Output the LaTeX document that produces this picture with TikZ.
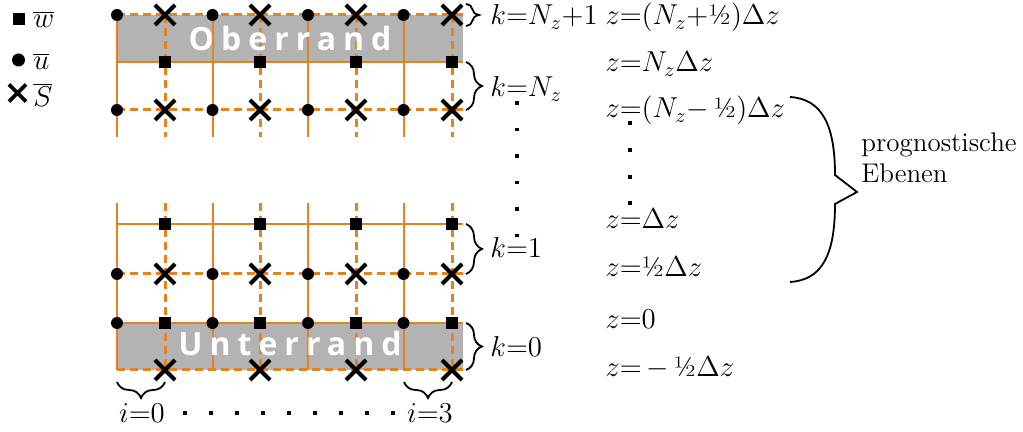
\documentclass[tikz,border=0pt]{standalone}
\usepackage{fontspec}
\usetikzlibrary{decorations.pathreplacing,shapes.misc}
\newfontfamily\randfont[LetterSpace=22]{Open Sans}
\definecolor{gridorange}{HTML}{E8801C}
\definecolor{randgray}{HTML}{B3B3B3}
\begin{document}
\begin{tikzpicture}[x=0.5pt,y=-0.5pt,
  solidline/.style={gridorange, line width=1pt},
  dashline/.style={gridorange, line width=1.5pt, dash pattern=on 4pt off 2.5pt},
  umark/.style={circle, fill=black, inner sep=0pt, minimum size=6pt},
  wmark/.style={rectangle, fill=black, inner sep=0pt, minimum size=5.9pt},
  smark/.style={cross out, draw=black, line width=2pt, inner sep=0pt, minimum size=8pt},
  dotmark/.style={rectangle, fill=black, inner sep=0pt, minimum width=2pt, minimum height=1.8pt},
  lbl/.style={inner sep=0pt, font=\fontsize{14}{17}\selectfont},
  randtext/.style={inner sep=0pt, text=white, font=\randfont\bfseries\fontsize{16}{19}\selectfont},
  bracestyle/.style={black, line width=0.9pt},
  smallbrace/.style={bracestyle, decorate, decoration={brace, amplitude=#1}},
]
\useasboundingbox (0,0) rectangle (1023,432);

% grey boundary boxes
\fill[randgray] (117,15) rectangle (463,62);
\fill[randgray] (117,323) rectangle (463,370);

% vertical grid lines
\foreach \xu/\xw in {117/165, 212.5/260, 308/356, 403.5/452}{
  \draw[solidline] (\xu,15) -- (\xu,137);
  \draw[dashline] (\xw,15) -- (\xw,137);
  \draw[solidline] (\xu,203) -- (\xu,370);
  \draw[dashline] (\xw,203) -- (\xw,370);
}
% horizontal grid lines
\draw[dashline] (117,15) -- (463,15);
\draw[solidline] (117,62) -- (463,62);
\draw[dashline] (117,110) -- (463,110);
\draw[solidline] (117,224) -- (463,224);
\draw[dashline] (117,274) -- (463,274);
\draw[solidline] (117,323) -- (463,323);
\draw[dashline] (117,370) -- (463,370);

% boundary texts
\node[randtext] (ober) at (290,39) {Oberrand};
\node[randtext] (unter) at (290,344) {Unterrand};

% markers
\foreach \xu/\xw [count=\i] in {117/165, 212.5/260, 308/356, 403.5/452}{
  \node[umark] (ua\i) at (\xu,15) {};
  \node[smark] (sa\i) at (\xw,15) {};
  \node[wmark] (wa\i) at (\xw,62) {};
  \node[umark] (ub\i) at (\xu,110) {};
  \node[smark] (sb\i) at (\xw,110) {};
  \node[wmark] (wc\i) at (\xw,224) {};
  \node[umark] (uc\i) at (\xu,274) {};
  \node[smark] (sc\i) at (\xw,274) {};
  \node[umark] (ud\i) at (\xu,323) {};
  \node[wmark] (wd\i) at (\xw,323) {};
  \node[smark] (sd\i) at (\xw,370) {};
}

% legend
\node[wmark] (lw) at (19,19) {};
\node[lbl, anchor=base west] (lwt) at (33,28) {$\overline{w}$};
\node[umark, minimum size=6.5pt] (lu) at (18.5,60) {};
\node[lbl, anchor=base west] (lut) at (33,70) {$\overline{u}$};
\node[smark, minimum size=6.8pt, line width=1.8pt] (ls) at (17.5,93) {};
\node[lbl, anchor=base west] (lst) at (33,107) {$\overline{S}$};

% k braces
\coordinate (b4a) at (466,4);   \coordinate (b4b) at (466,26);
\coordinate (b3a) at (466,62);  \coordinate (b3b) at (466,110);
\coordinate (b1a) at (466,224); \coordinate (b1b) at (466,274);
\coordinate (b0a) at (466,323); \coordinate (b0b) at (466,370);
\draw[smallbrace=6.5pt] (b4a) -- (b4b);
\draw[smallbrace=8pt] (b3a) -- (b3b);
\draw[smallbrace=8pt] (b1a) -- (b1b);
\draw[smallbrace=8pt] (b0a) -- (b0b);
\node[lbl, anchor=base west] (k4) at (490,25) {$k{=}N_z{+}1$};
\node[lbl, anchor=base west] (k3) at (490,97) {$k{=}N_z$};
\node[lbl, anchor=base west] (k1) at (490,258) {$k{=}1$};
\node[lbl, anchor=base west] (k0) at (490,357) {$k{=}0$};
\foreach \y [count=\j] in {103,129.5,156,182.5,209,235.5}{
  \node[dotmark] (kd\j) at (517,\y) {};
}

% i braces
\coordinate (i0a) at (165,382); \coordinate (i0b) at (117,382);
\coordinate (i3a) at (452,382); \coordinate (i3b) at (404,382);
\draw[smallbrace=8pt] (i0a) -- (i0b);
\draw[smallbrace=8pt] (i3a) -- (i3b);
\node[lbl, anchor=base] (i0) at (142,423) {$i{=}0$};
\node[lbl, anchor=base] (i3) at (430,423) {$i{=}3$};
\foreach \j in {0,...,8}{
  \node[dotmark] (id\j) at (185+26*\j,413) {};
}

% z labels
\node[lbl, anchor=base west] (z6) at (605,25) {$z{=}(N_z{+}\mbox{½})\Delta z$};
\node[lbl, anchor=base west] (z5) at (605,72) {$z{=}N_z\Delta z$};
\node[lbl, anchor=base west] (z4) at (605,118) {$z{=}(N_z{-}\,\mbox{½})\Delta z$};
\node[lbl, anchor=base west] (z3) at (605,229) {$z{=}\Delta z$};
\node[lbl, anchor=base west] (z2) at (605,277) {$z{=}\mbox{½}\Delta z$};
\node[lbl, anchor=base west] (z1) at (605,329) {$z{=}0$};
\node[lbl, anchor=base west] (z0) at (605,377) {$z{=}\,{-}\,\mbox{½}\Delta z$};
\foreach \y [count=\j] in {123,150,177,203}{
  \node[dotmark] (zd\j) at (630,\y) {};
}

% big brace
\coordinate (bba) at (790,97);
\coordinate (bbt) at (857,192);
\coordinate (bbb) at (790,282);
\draw[bracestyle] (bba) .. controls (822,99) and (835,125) .. (835,175) -- (bbt) -- (835,204) .. controls (835,255) and (822,280) .. (bbb);
\node[inner sep=0pt, anchor=base west, align=left, font=\fontsize{13.5}{15.5}\selectfont] (prog) at (861,183) {prognostische\\Ebenen};
\end{tikzpicture}
\end{document}
